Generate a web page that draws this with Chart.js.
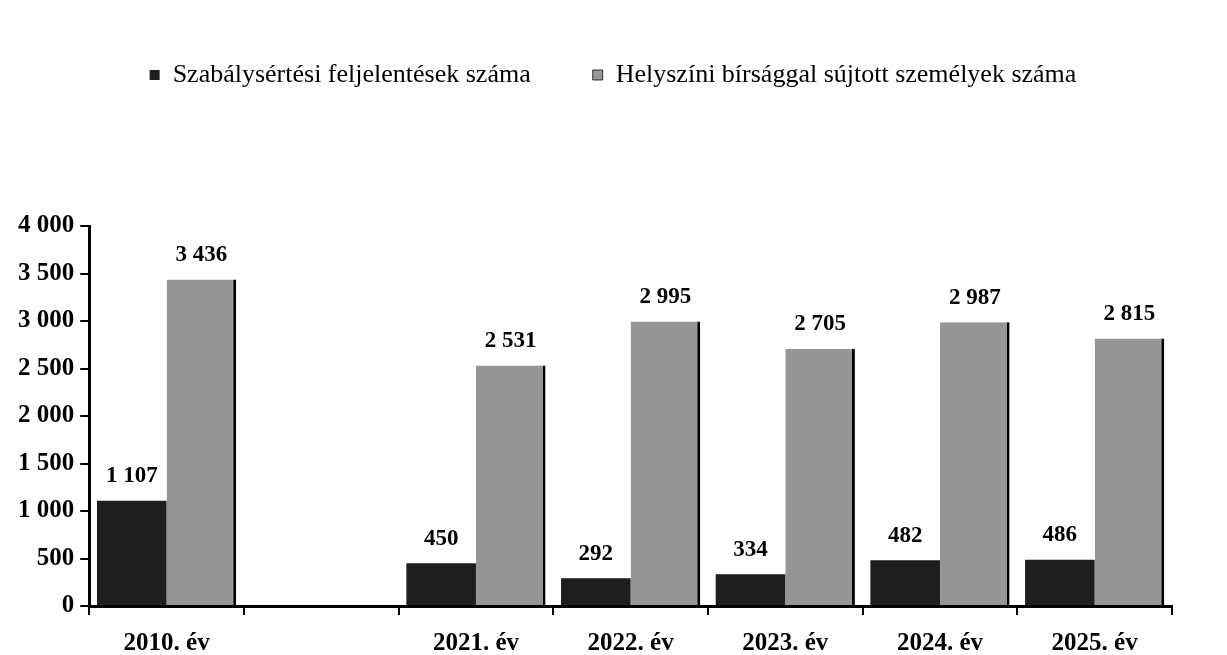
<!DOCTYPE html>
<html>
<head>
<meta charset="utf-8">
<script src="https://cdn.jsdelivr.net/npm/chart.js@4/dist/chart.umd.min.js"></script>
<style>
  html, body { margin: 0; padding: 0; background: #fff; }
  #wrap { width: 1227px; height: 655px; }
</style>
</head>
<body>
<div id="wrap"><canvas id="chart" width="1227" height="655"></canvas></div>
<script>
var years = ["2010. év", "", "2021. év", "2022. év", "2023. év", "2024. év", "2025. év"];
var feljelentesek = [1107, null, 450, 292, 334, 482, 486];
var helyszini = [3436, null, 2531, 2995, 2705, 2987, 2815];
var seriesNames = ["Szabálysértési feljelentések száma", "Helyszíni bírsággal sújtott személyek száma"];

function fmt(v) {
  return String(v).replace(/\B(?=(\d{3})+(?!\d))/g, ' ');
}

// push the plot area down below the legend, and center legend on the page
var legendSpace = {
  id: 'legendSpace',
  beforeInit: function(chart) {
    var origFit = chart.legend.fit;
    chart.legend.fit = function() {
      origFit.bind(chart.legend)();
      this.height += 128;
    };
  },
  afterLayout: function(chart) {
    chart.legend.left += 21;
    chart.legend.right += 21;
  }
};

var valueLabels = {
  id: 'valueLabels',
  afterDatasetsDraw: function(chart) {
    var ctx = chart.ctx;
    ctx.save();
    ctx.font = 'bold 23px "Liberation Serif"';
    ctx.fillStyle = '#000';
    ctx.textAlign = 'center';
    ctx.textBaseline = 'bottom';
    chart.data.datasets.forEach(function(ds, i) {
      chart.getDatasetMeta(i).data.forEach(function(bar, j) {
        if (ds.data[j] == null) return;
        ctx.fillText(fmt(ds.data[j]), bar.x, bar.y - 13);
      });
    });
    ctx.restore();
  }
};

var ctx = document.getElementById('chart');
var chart = new Chart(ctx, {
  type: 'bar',
  data: {
    labels: years,
    datasets: [
      {
        label: seriesNames[0],
        data: feljelentesek,
        backgroundColor: '#1e1e1e',
        borderColor: '#000',
        borderWidth: 0
      },
      {
        label: seriesNames[1],
        data: helyszini,
        backgroundColor: '#969696',
        borderColor: '#000',
        borderWidth: {top: 0, left: 0, bottom: 0, right: 3},
        borderSkipped: false
      }
    ]
  },
  options: {
    responsive: false,
    animation: false,
    layout: { padding: { top: 0, left: 12, right: 55, bottom: -18 } },
    datasets: { bar: { categoryPercentage: 0.9, barPercentage: 1.0 } },
    plugins: {
      legend: {
        position: 'top',
        labels: {
          font: { family: '"Liberation Serif"', size: 26 },
          color: '#000',
          boxWidth: 10,
          boxHeight: 10,
          padding: 62
        }
      },
      tooltip: { enabled: false }
    },
    scales: {
      x: {
        grid: { drawOnChartArea: false, tickLength: 9, color: '#000', lineWidth: 2 },
        border: { color: '#000', width: 3 },
        ticks: {
          font: { family: '"Liberation Serif"', size: 25, weight: 'bold' },
          color: '#000',
          padding: 14
        }
      },
      y: {
        min: 0,
        max: 4000,
        grid: { drawOnChartArea: false, tickLength: 9, color: '#000', lineWidth: 2 },
        border: { color: '#000', width: 3 },
        ticks: {
          stepSize: 500,
          font: { family: '"Liberation Serif"', size: 25, weight: 'bold' },
          color: '#000',
          padding: 6,
          callback: function(v) { return fmt(v); }
        }
      }
    }
  },
  plugins: [legendSpace, valueLabels]
});
</script>
</body>
</html>
